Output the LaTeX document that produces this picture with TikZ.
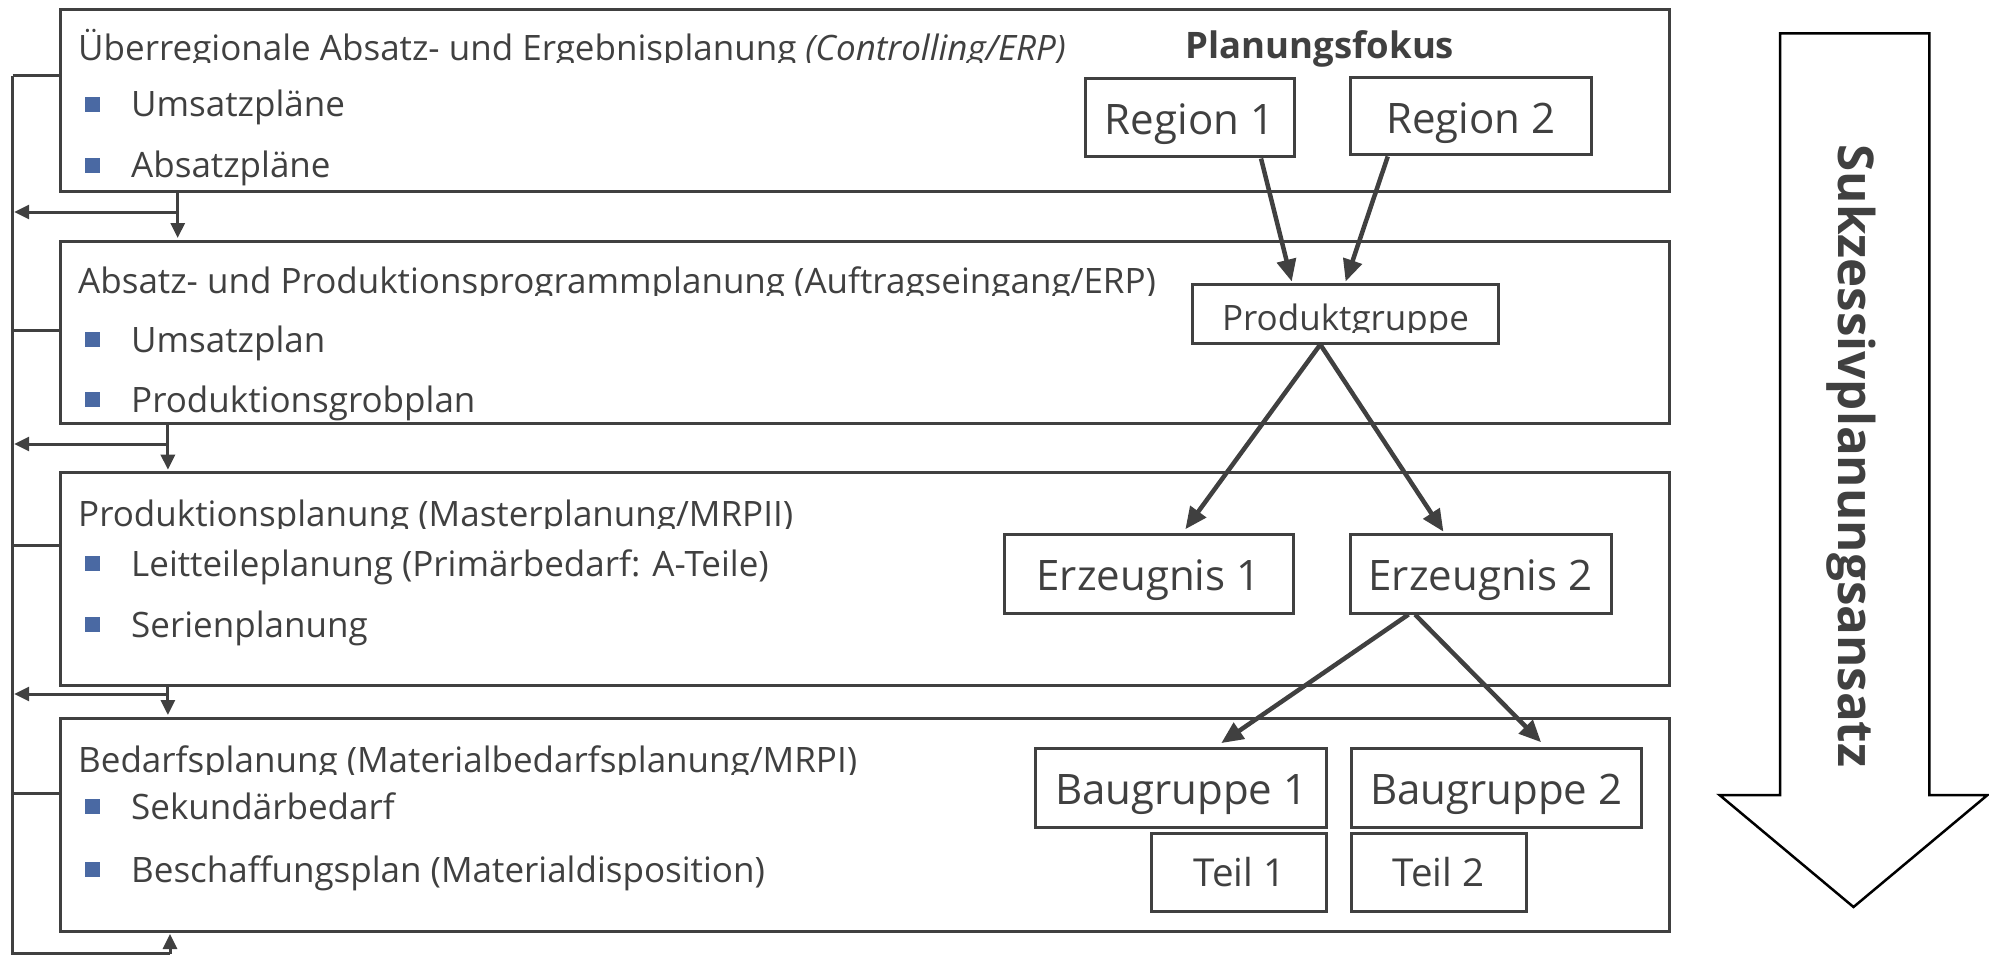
\documentclass[tikz,border=0pt]{standalone}
\usepackage{fontspec}
\setmainfont{Open Sans}
\usetikzlibrary{arrows.meta,calc}
\definecolor{lc}{HTML}{404040}
\definecolor{tc}{HTML}{404040}
\definecolor{bc}{HTML}{4A69A3}
\tikzset{
  stagebox/.style={draw=lc, line width=3pt, inner sep=0pt},
  ttltext/.style={anchor=base west, inner sep=0pt, text=tc, font=\fontsize{35}{41}\selectfont},
  itemtext/.style={anchor=base west, inner sep=0pt, text=tc, font=\fontsize{35}{41}\selectfont},
  bulletsq/.style={fill=bc, minimum size=15pt, inner sep=0pt},
  cellbox/.style={draw=lc, line width=3pt, inner sep=0pt, text=tc},
  bigfont/.style={font=\fontsize{42}{49}\selectfont, text height=34pt, text depth=0pt},
  teilfont/.style={font=\fontsize{38.5}{45}\selectfont, text height=29.4pt, text depth=0pt},
  midfont/.style={font=\fontsize{35}{42}\selectfont},
  flowarrow/.style={draw=lc, line width=4.5pt, -{Triangle[length=22pt,width=19pt]}},
  fbline/.style={draw=lc, line width=3pt},
  fbarrow/.style={fbline, -{Triangle[length=15pt,width=14pt]}, shorten >=1.5pt},
}
\begin{document}
\begin{tikzpicture}[x=1pt, y=-1pt]
\useasboundingbox (0,0) rectangle (1989,955);

% planning stages
\node[stagebox, minimum width=1609pt, minimum height=181.7pt] (s1) at (865,100.15) {};
\node[stagebox, minimum width=1609pt, minimum height=182pt] (s2) at (865,332) {};
\node[stagebox, minimum width=1609pt, minimum height=212.3pt] (s3) at (865,578.85) {};
\node[stagebox, minimum width=1609pt, minimum height=213pt] (s4) at (865,824.5) {};

% stage titles (cut off just below the baseline)
\begin{scope}
  \clip (62,20) rectangle (1660,63);
  \node[ttltext] (t1) at (78,61) {Überregionale Absatz- und Ergebnisplanung \textit{(Controlling/ERP)}};
\end{scope}
\begin{scope}
  \clip (62,250) rectangle (1660,295);
  \node[ttltext] (t2) at (78,293) {Absatz- und Produktionsprogrammplanung (Auftragseingang/ERP)};
\end{scope}
\begin{scope}
  \clip (62,480) rectangle (1660,528);
  \node[ttltext] (t3) at (78,526) {Produktionsplanung (Masterplanung/MRPII)};
\end{scope}
\begin{scope}
  \clip (62,725) rectangle (1660,774);
  \node[ttltext] (t4) at (78,772) {Bedarfsplanung (Materialbedarfsplanung/MRPI)};
\end{scope}

% bullet items
\node[bulletsq] (q11) at (92.5,104.5) {};
\node[itemtext] (i11) at (131,117) {Umsatzpläne};
\node[bulletsq] (q12) at (92.5,165.5) {};
\node[itemtext] (i12) at (131,178) {Absatzpläne};
\node[bulletsq] (q21) at (92.5,339.5) {};
\node[itemtext] (i21) at (131,352) {Umsatzplan};
\node[bulletsq] (q22) at (92.5,399.5) {};
\node[itemtext] (i22) at (131,412) {Produktionsgrobplan};
\node[bulletsq] (q31) at (92.5,563.5) {};
\node[itemtext] (i31) at (131,576) {Leitteileplanung (Primärbedarf: A-Teile)};
\node[bulletsq] (q32) at (92.5,624.5) {};
\node[itemtext] (i32) at (131,637) {Serienplanung};
\node[bulletsq] (q41) at (92.5,806.5) {};
\node[itemtext] (i41) at (131,819) {Sekundärbedarf};
\node[bulletsq] (q42) at (92.5,869.5) {};
\node[itemtext] (i42) at (131,882) {Beschaffungsplan (Materialdisposition)};

% feedback loop on the left
\coordinate (spt) at (12.7,75.7);
\coordinate (spb) at (12.7,953.5);
\coordinate (ub) at (170,953.5);
\draw[fbline] (spt) -- (spb) -- (ub);
\draw[fbline] (spt) -- (spt -| s1.west);
\draw[fbline] (12.7,330) coordinate (sp2) -- (sp2 -| s2.west);
\draw[fbline] (12.7,545.7) coordinate (sp3) -- (sp3 -| s3.west);
\draw[fbline] (12.7,793) coordinate (sp4) -- (sp4 -| s4.west);
\draw[fbarrow] (ub) -- (ub |- s4.south);

\coordinate (d1) at (177.7,212);
\draw[fbline] (d1 |- s1.south) -- (d1);
\draw[fbarrow] (d1) -- (d1 |- s2.north);
\draw[fbarrow] (d1) -- (d1 -| spt);
\coordinate (d2) at (167.9,444);
\draw[fbline] (d2 |- s2.south) -- (d2);
\draw[fbarrow] (d2) -- (d2 |- s3.north);
\draw[fbarrow] (d2) -- (d2 -| spt);
\coordinate (d3) at (167.9,694);
\draw[fbline] (d3 |- s3.south) -- (d3);
\draw[fbarrow] (d3) -- (d3 |- s4.north);
\draw[fbarrow] (d3) -- (d3 -| spt);

% planning focus tree
\node[anchor=base, inner sep=0pt, text=tc, font=\fontsize{36.5}{43}\selectfont\bfseries] (pf) at (1320,59) {Planungsfokus};
\node[cellbox, bigfont, minimum width=209pt, minimum height=78pt] (r1) at (1189.5,118) {Region 1};
\node[cellbox, bigfont, minimum width=241.5pt, minimum height=77pt] (r2) at (1470.75,116.5) {Region 2};
\node[cellbox, minimum width=306.6pt, minimum height=59pt] (pg) at (1345.3,313.5) {};
\begin{scope}
  \clip (1195,288) rectangle (1495,332.7);
  \node[anchor=base, inner sep=0pt, text=tc, midfont] (pgt) at (1345.5,330) {Produktgruppe};
\end{scope}
\node[cellbox, bigfont, minimum width=289pt, minimum height=79pt] (e1) at (1148.5,573.5) {Erzeugnis 1};
\node[cellbox, bigfont, minimum width=261pt, minimum height=79pt] (e2) at (1480.5,573.5) {Erzeugnis 2};
\node[cellbox, bigfont, minimum width=291pt, minimum height=79pt] (g1) at (1181.3,787.5) {Baugruppe 1};
\node[cellbox, bigfont, minimum width=290.5pt, minimum height=79pt] (g2) at (1496.3,787.5) {Baugruppe 2};
\node[cellbox, teilfont, minimum width=175pt, minimum height=78pt] (p1) at (1239.3,872) {Teil 1};
\node[cellbox, teilfont, minimum width=175pt, minimum height=78pt] (p2) at (1438.5,872) {Teil 2};

\draw[flowarrow, shorten >=1pt] ([xshift=71.5pt]r1.south) -- ([xshift=-53.3pt]pg.north);
\draw[flowarrow, shorten >=1pt] ([xshift=-83pt]r2.south) -- (pg.north);
\draw[flowarrow, shorten >=4pt] ([xshift=-25pt]pg.south) -- ([xshift=34.5pt]e1.north);
\draw[flowarrow, shorten >=1pt] ([xshift=-25pt]pg.south) -- ([xshift=-36.5pt]e2.north);
\draw[flowarrow, shorten >=6pt] ([xshift=-72pt]e2.south) -- ([xshift=35pt]g1.north);
\draw[flowarrow, shorten >=6pt] ([xshift=-65.5pt]e2.south) -- ([xshift=49pt]g2.north);

% successive planning arrow
\draw[line width=2.5pt, draw=black, fill=white]
  (1780,33.5) -- (1929.3,33.5) -- (1929.3,795) -- (1987.5,795) -- (1853.5,907)
  -- (1719.5,795) -- (1780,795) -- cycle;
\node[rotate=-90, inner sep=0pt, text=tc, font=\fontsize{49.3}{57}\selectfont\bfseries] (sk) at (1851,456) {Sukzessivplanungsansatz};
\end{tikzpicture}
\end{document}
